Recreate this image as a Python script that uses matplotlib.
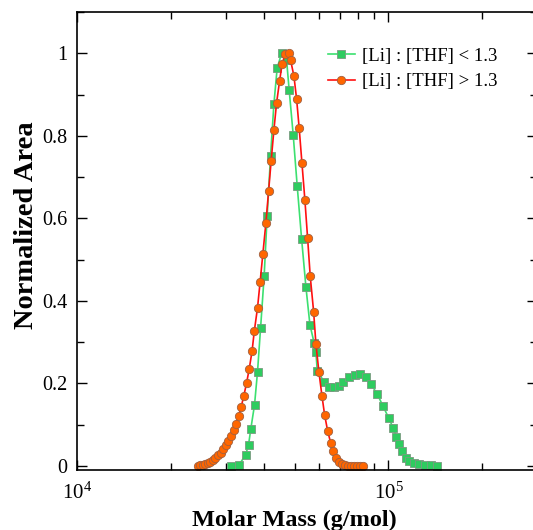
import matplotlib
matplotlib.use('Agg')
import matplotlib.pyplot as plt
from matplotlib.ticker import LogLocator, MultipleLocator, NullFormatter

# [Li] : [THF] < 1.3  (green squares)
mass_low = [31260, 33080, 34770, 35550, 36160, 37160, 37990, 38850, 39900, 40790,
            41830, 42870, 43930, 45390, 47100, 48020, 49450, 50950, 52630, 54330,
            55970, 57780, 58510, 59080, 62090, 64430, 66860, 69380, 71620, 74540,
            77920, 81040, 84720, 87920, 91910, 96080, 100200, 103460, 106020, 108400,
            110850, 113920, 116740, 120610, 125150, 130830, 137080, 143620]
area_low = [0.0, 0.002, 0.026, 0.051, 0.090, 0.148, 0.228, 0.333, 0.460, 0.605,
            0.750, 0.876, 0.964, 1.000, 0.983, 0.910, 0.803, 0.678, 0.550, 0.434,
            0.342, 0.297, 0.275, 0.231, 0.204, 0.191, 0.190, 0.194, 0.204, 0.215,
            0.221, 0.222, 0.215, 0.198, 0.175, 0.145, 0.116, 0.093, 0.071, 0.053,
            0.036, 0.020, 0.011, 0.007, 0.004, 0.002, 0.001, 0.0]

# [Li] : [THF] > 1.3  (orange circles)
mass_high = [24430, 24920, 25400, 25850, 26360, 26830, 27290, 27840, 28390, 28950,
             29450, 30040, 30650, 31180, 31810, 32360, 33010, 33650, 34330, 35020,
             35730, 36500, 37100, 37990, 38730, 39520, 40410, 41220, 42030, 42870,
             43730, 44720, 45590, 46610, 47800, 48520, 49720, 50720, 51700, 52750,
             53930, 55020, 56090, 57520, 58510, 59830, 61170, 62410, 63800, 65240,
             66500, 68000, 69380, 70930, 72530, 74150, 75810, 77480, 79250, 81040,
             82680]
area_high = [0.0, 0.001, 0.002, 0.005, 0.007, 0.010, 0.015, 0.020, 0.026, 0.032,
             0.040, 0.050, 0.061, 0.073, 0.086, 0.101, 0.120, 0.142, 0.170, 0.200,
             0.235, 0.279, 0.327, 0.383, 0.446, 0.514, 0.588, 0.665, 0.740, 0.813,
             0.879, 0.933, 0.975, 0.997, 1.000, 0.983, 0.945, 0.889, 0.818, 0.735,
             0.644, 0.552, 0.460, 0.374, 0.295, 0.227, 0.170, 0.123, 0.085, 0.056,
             0.036, 0.020, 0.010, 0.005, 0.002, 0.0, 0.0, 0.0, 0.0, 0.0,
             0.0]

labels = ['[Li] : [THF] < 1.3', '[Li] : [THF] > 1.3']

plt.rcParams['font.family'] = ['Liberation Serif', 'DejaVu Serif']
plt.rcParams['mathtext.fontset'] = 'custom'
plt.rcParams['mathtext.rm'] = 'Liberation Serif'

fig = plt.figure(figsize=(5.33, 5.30), dpi=100)
ax = fig.add_axes([77 / 533, 60 / 530, 460 / 533, 458 / 530])

ax.plot(mass_low, area_low, color='#3ce070', linewidth=1.2, marker='s', markersize=6,
        markerfacecolor='#2ecc5f', markeredgecolor='#7a9a80', markeredgewidth=0.6,
        label=labels[0])
ax.plot(mass_high, area_high, color='#ff1010', linewidth=1.2, marker='o', markersize=6,
        markerfacecolor='#ff6600', markeredgecolor='#a06040', markeredgewidth=0.6,
        label=labels[1])

ax.set_xscale('log')
ax.set_xlim(1e4, 3e5)
ax.set_ylim(-0.01, 1.1)

ax.yaxis.set_minor_locator(MultipleLocator(0.1))
ax.set_yticks([0, 0.2, 0.4, 0.6, 0.8, 1.0])
ax.set_yticklabels(['0', '0.2', '0.4', '0.6', '0.8', '1'])
ax.xaxis.set_minor_locator(LogLocator(base=10, subs=range(2, 10)))
ax.xaxis.set_minor_formatter(NullFormatter())

ax.tick_params(which='both', direction='in', top=True, right=True, width=1.0)
ax.tick_params(which='major', length=7, pad=8)
ax.tick_params(which='minor', length=5)
ax.tick_params(axis='y', labelsize=14.5, pad=7)
ax.tick_params(axis='x', labelsize=15, pad=9)
for s in ax.spines.values():
    s.set_linewidth(1.2)

ax.set_xlabel('Molar Mass (g/mol)', fontsize=17.5, fontweight='bold')
ax.set_ylabel('Normalized Area', fontsize=20.5, fontweight='bold')
ax.xaxis.set_label_coords(0.472, -0.088)
ax.yaxis.set_label_coords(-0.082, 0.535)

ax.legend(loc='upper left', bbox_to_anchor=(320 / 533, 1 - 40 / 530),
          bbox_transform=fig.transFigure, borderaxespad=0, frameon=False,
          fontsize=13.5, handlelength=1.45, handletextpad=0.37, labelspacing=0.45)

fig.savefig('out.png', dpi=100)
